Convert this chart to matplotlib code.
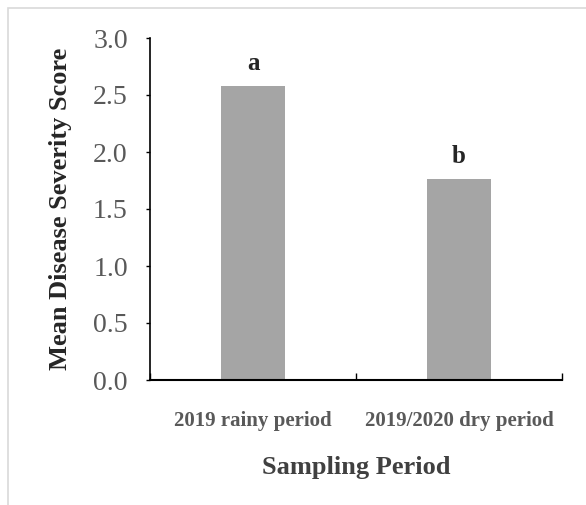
import matplotlib.pyplot as plt
from matplotlib.patches import Rectangle

# data
periods = ['2019 rainy period', '2019/2020 dry period']
severity = [2.58, 1.76]
letters = ['a', 'b']

plt.rcParams['font.family'] = ['Liberation Serif', 'DejaVu Serif']

fig = plt.figure(figsize=(5.86, 5.05), dpi=100)
ax = fig.add_axes([150 / 586, 1 - 380 / 505, 412 / 586, 342 / 505])

# light frame around the chart area
fig.patches.append(Rectangle((8 / 586, -0.1), 1.2, (1 - 8 / 505) + 0.1,
                             transform=fig.transFigure, fill=False,
                             edgecolor='#d9d9d9', linewidth=1.2))

x = range(len(periods))
ax.bar(x, severity, width=0.31, color='#a5a5a5')
for xi, v, lab in zip(x, severity, letters):
    ax.text(xi, v + 0.14, lab, ha='center', va='baseline',
            fontsize=18, fontweight='bold', color='#262626')

ax.set_xlim(-0.5, 1.5)
ax.set_ylim(0, 3.0)
ax.set_yticks([0, 0.5, 1.0, 1.5, 2.0, 2.5, 3.0])
ax.set_yticklabels([f'{t:.1f}' for t in ax.get_yticks()])
ax.tick_params(axis='y', direction='out', length=3, width=1,
               labelsize=20, labelcolor='#595959', pad=13)

# category boundaries as ticks, labels at centres
ax.set_xticks([-0.5, 0.5, 1.5])
ax.set_xticklabels([])
ax.set_xticks(list(x), minor=True)
ax.set_xticklabels(periods, minor=True, fontsize=15, fontweight='bold',
                   color='#595959')
ax.tick_params(axis='x', which='major', direction='in', length=5, width=1)
ax.tick_params(axis='x', which='minor', length=0, pad=22)

for s in ['top', 'right']:
    ax.spines[s].set_visible(False)
ax.spines['left'].set_linewidth(1.2)
ax.spines['bottom'].set_linewidth(1.5)

ax.set_ylabel('Mean Disease Severity Score', fontsize=19, fontweight='bold',
              color='#262626', labelpad=15)
ax.set_xlabel('Sampling Period', fontsize=19, fontweight='bold',
              color='#404040', labelpad=18)

fig.savefig('out.png', dpi=100)
